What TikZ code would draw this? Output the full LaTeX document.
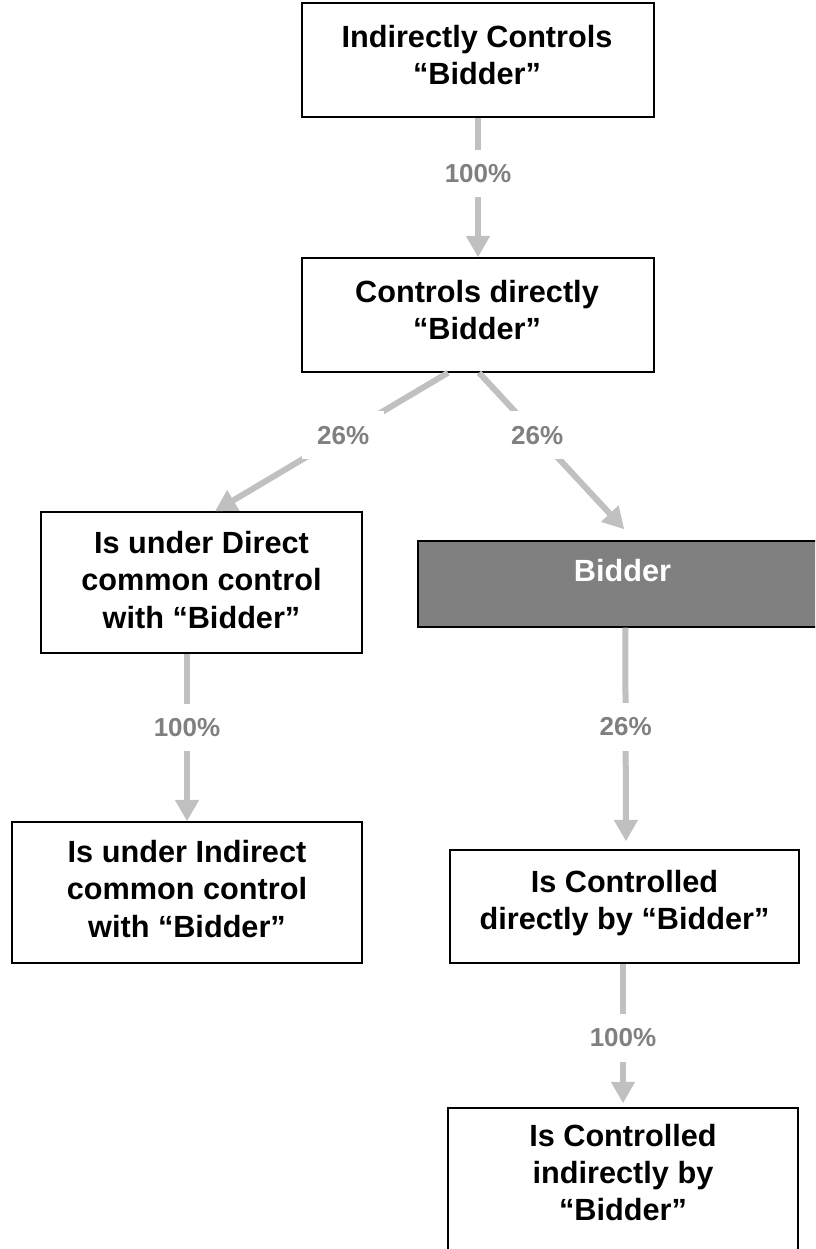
\documentclass[tikz,border=0pt]{standalone}
\usepackage{fontspec}
\setmainfont{Liberation Sans}
\usetikzlibrary{arrows.meta,calc}
\definecolor{arrgray}{RGB}{192,192,192}
\definecolor{lblgray}{RGB}{128,128,128}
\definecolor{boxgray}{RGB}{128,128,128}
\begin{document}
\begin{tikzpicture}[x=0.75pt,y=-0.75pt,
  box/.style={draw=black,line width=1.1pt,fill=white,rectangle,inner sep=0pt},
  txt/.style={align=center,font=\fontsize{23}{28}\selectfont\bfseries,inner sep=0pt},
  conn/.style={draw=arrgray,line width=4.5pt,-{Triangle[width=17pt,length=16pt]}},
  lbl/.style={fill=white,text=lblgray,inner sep=11pt,font=\fontsize{19.5}{22}\selectfont\bfseries}]
\useasboundingbox (0,0) rectangle (815,1249);
\clip (0,0) rectangle (815,1249);
\fill[white] (0,0) rectangle (815,1249);

% boxes
\node[box,minimum width=264pt,minimum height=85.5pt] (b1) at (478,60) {};
\node[box,minimum width=264pt,minimum height=85.5pt] (b2) at (478,315) {};
\node[box,minimum width=240.75pt,minimum height=105.75pt] (b3) at (201.5,582.5) {};
\node[box,minimum width=262.5pt,minimum height=105.75pt] (b4) at (187,892.5) {};
\node[box,fill=boxgray,minimum width=316.5pt,minimum height=64.5pt] (bid) at (629,584) {};
\node[box,minimum width=261.75pt,minimum height=84.75pt] (b5) at (624.5,906.5) {};
\node[box,minimum width=262.5pt,minimum height=151.5pt] (b6) at (623,1209) {};

% texts
\node[txt] (t1) at (477,55) {Indirectly Controls\\“Bidder”};
\node[txt] (t2) at (477,310) {Controls directly\\“Bidder”};
\node[txt] (t3) at (201.5,580) {Is under Direct\\common control\\with “Bidder”};
\node[txt] (t4) at (187,889) {Is under Indirect\\common control\\with “Bidder”};
\node[txt,text=white] (tb) at (622.5,571) {Bidder};
\node[txt] (t5) at (624.5,903) {Is Controlled\\directly by “Bidder”};
\node[txt] (t6) at (623,1172.5) {Is Controlled\\indirectly by\\“Bidder”};

% connectors
\draw[conn] (b1.south) -- (b2.north) node[lbl,pos=0.40] (l1) {100\%};
\draw[conn] ($(b2.south)+(-30,0)$) -- ($(b3.north)+(13.5,0)$) node[lbl,pos=0.45] (l2) {26\%};
\draw[conn] ($(b2.south)+(1,0)$) -- ($(bid.north west)+(207,-11)$) node[lbl,pos=0.40] (l3) {26\%};
\draw[conn] ($(b3.south)+(-14.5,0)$) -- (b4.north) node[lbl,pos=0.44] (l4) {100\%};
\draw[conn] ($(bid.south west)+(208,0)$) -- ($(b5.north)+(1.5,-8)$) node[lbl,pos=0.465] (l5) {26\%};
\draw[conn] ($(b5.south)+(-1.5,0)$) -- ($(b6.north)+(0,-4)$) node[lbl,pos=0.53] (l6) {100\%};
\end{tikzpicture}
\end{document}
